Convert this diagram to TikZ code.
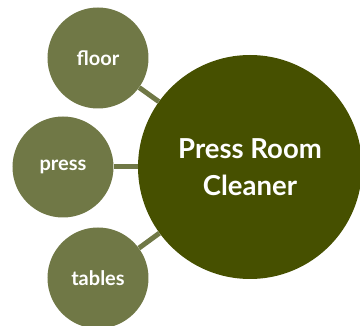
\documentclass[tikz,border=0pt]{standalone}
\usepackage{fontspec}
\setmainfont{Lato}
\usetikzlibrary{positioning}

\definecolor{olivesmall}{RGB}{112,120,70}
\definecolor{olivebig}{RGB}{70,80,0}

\begin{document}
\begin{tikzpicture}[
    x=1pt, y=-1pt,
    hub/.style={
        circle,
        fill=olivebig,
        inner sep=0pt,
        minimum size=224pt,
        align=center,
        text=white,
        font=\bfseries\fontsize{27.5}{37}\selectfont
    },
    leaf/.style={
        circle,
        fill=olivesmall,
        inner sep=0pt,
        minimum size=101pt,
        text=white,
        font=\bfseries\fontsize{20}{24}\selectfont
    },
    link/.style={draw=olivesmall, line width=5pt}
]
    \useasboundingbox (0,0) rectangle (360,326);

    \node[hub] (cleaner) at (250,167) {Press Room\\Cleaner};
    \node[leaf] (floor) at (98,58) {floor};
    \node[leaf] (press) at (63,167) {press};
    \node[leaf] (tables) at (98,278) {tables};

    \draw[link] (floor) -- (cleaner);
    \draw[link] (press) -- (cleaner);
    \draw[link] (tables) -- (cleaner);
\end{tikzpicture}
\end{document}
